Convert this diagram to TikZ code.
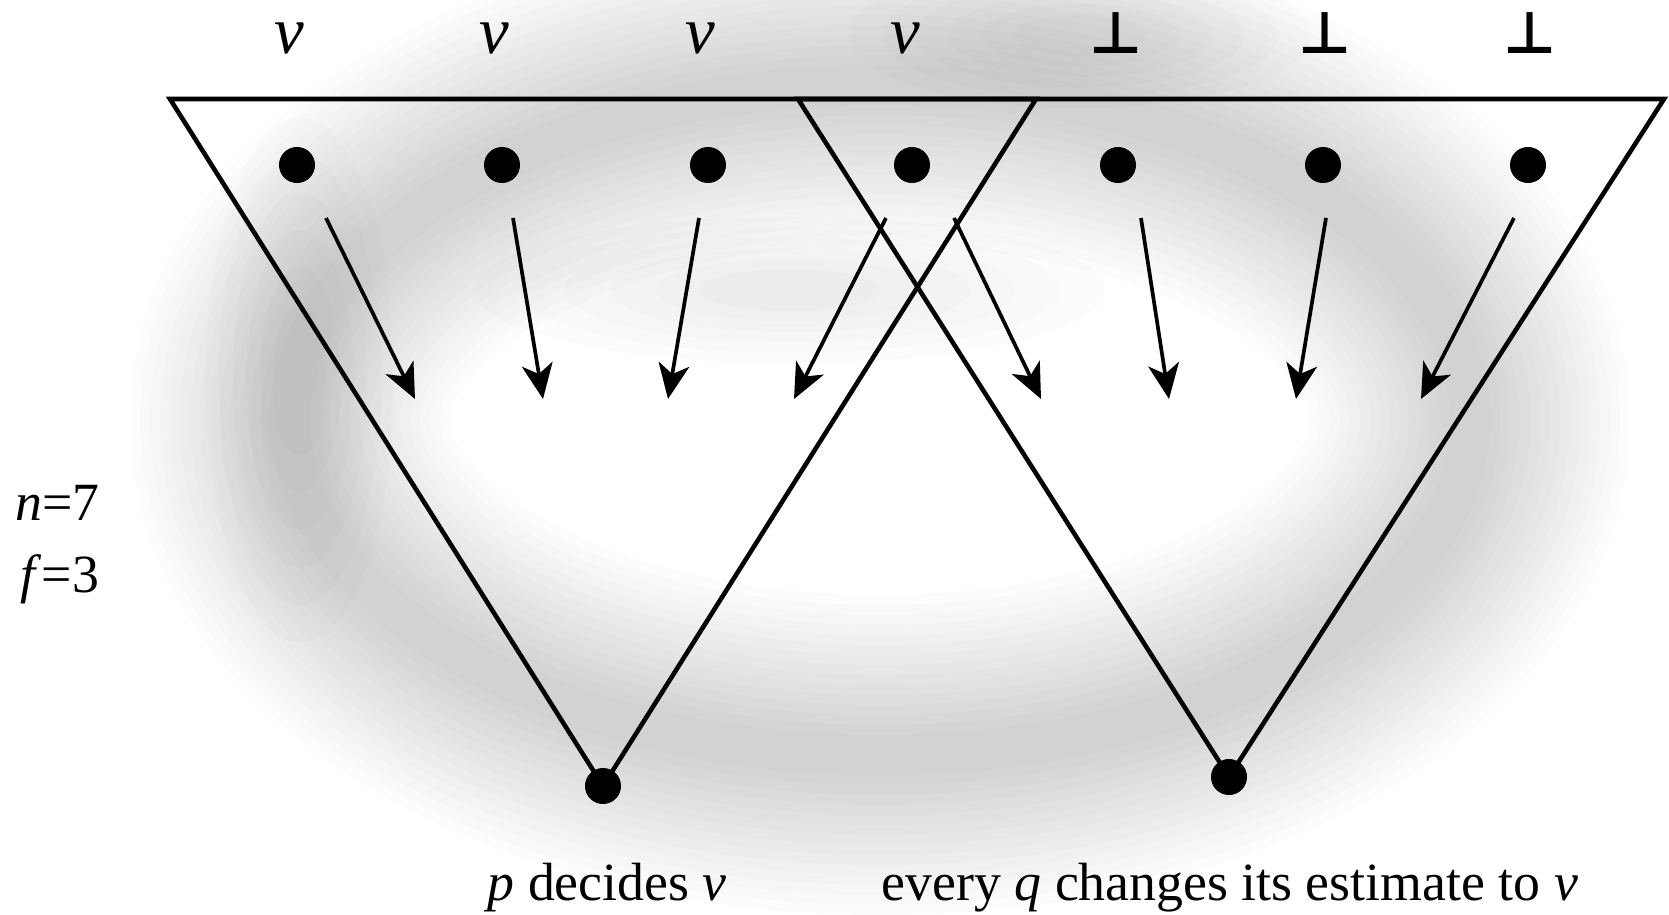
\documentclass[tikz,border=0pt]{standalone}
\usepackage{fontspec}
\setmainfont{Liberation Serif}
\newfontfamily\perpfont{DejaVu Sans}
\usetikzlibrary{arrows.meta}
\begin{document}
\begin{tikzpicture}[x=0.01cm,y=-0.01cm,
  dot/.style={circle,fill=black,inner sep=0pt,minimum size=0.36cm},
  tri/.style={line width=1.3pt,line join=miter},
  arr/.style={line width=1.05pt,-{Stealth[length=10pt,width=8.8pt,inset=2.8pt]}},
  toplab/.style={anchor=base,inner sep=0pt,font=\fontsize{19}{22}\selectfont},
  perplab/.style={anchor=base,inner sep=0pt,font=\perpfont\bfseries\fontsize{16.5}{20}\selectfont},
  txt/.style={anchor=base west,inner sep=0pt,font=\fontsize{15.3}{18}\selectfont},
  halo/.style={draw=black,opacity=0.010},
  blob/.style={fill=black,opacity=0.013}]
\useasboundingbox (0,0) rectangle (1669,915);
\fill[white] (0,0) rectangle (1669,915);
% blurred background shadow
\foreach \w in {40,60,...,320}{
  \draw[halo,line width=\w*0.1mm] (880,420) ellipse [x radius=590,y radius=335];
}
\foreach \s in {0.3,0.45,...,1.05}{
  \fill[blob] (790,290) ellipse [x radius=\s*300,y radius=\s*70];
  \fill[blob] (1080,35) ellipse [x radius=\s*220,y radius=\s*70];
  \fill[blob] (300,380) ellipse [x radius=\s*90,y radius=\s*250];
}
% dots
\node[dot] (d1) at (297,165) {};
\node[dot] (d2) at (502,165) {};
\node[dot] (d3) at (708,165) {};
\node[dot] (d4) at (912,165) {};
\node[dot] (d5) at (1118,165) {};
\node[dot] (d6) at (1323,165) {};
\node[dot] (d7) at (1528,165) {};
\node[dot] (pd) at (603,786) {};
\node[dot] (qd) at (1229,777) {};
% triangles
\coordinate (tl1) at (170,99);
\coordinate (tr1) at (1036,99);
\coordinate (tl2) at (798,99);
\coordinate (tr2) at (1664,99);
\draw[tri] (tl1) -- (tr1) -- (pd.center) -- cycle;
\draw[tri] (tl2) -- (tr2) -- (qd.center) -- cycle;
% arrows
\coordinate (s1) at (326,218); \coordinate (e1) at (415,399);
\coordinate (s2) at (513,218); \coordinate (e2) at (543,399);
\coordinate (s3) at (699,218); \coordinate (e3) at (668,399);
\coordinate (s4) at (886,218); \coordinate (e4) at (794,399);
\coordinate (s5) at (954,218); \coordinate (e5) at (1041,399);
\coordinate (s6) at (1141,218); \coordinate (e6) at (1169,399);
\coordinate (s7) at (1326,218); \coordinate (e7) at (1296,399);
\coordinate (s8) at (1514,218); \coordinate (e8) at (1421,399);
\foreach \i in {1,...,8}{ \draw[arr] (s\i) -- (e\i); }
% top labels
\node[toplab] (l1) at (289,53) {\textit{v}};
\node[toplab] (l2) at (494,53) {\textit{v}};
\node[toplab] (l3) at (700,53) {\textit{v}};
\node[toplab] (l4) at (905,53) {\textit{v}};
\node[perplab] (l5) at (1116,53) {⊥};
\node[perplab] (l6) at (1325,53) {⊥};
\node[perplab] (l7) at (1530,53) {⊥};
% side text
\node[txt] (nn) at (15,520) {\textit{n}=7};
\node[txt] (ff) at (20,592) {\textit{f}=3};
% bottom text
\node[txt] (pt) at (487,900) {\textit{p} decides \textit{v}};
\node[txt] (qt) at (881,900) {every \textit{q} changes its estimate to \textit{v}};
\end{tikzpicture}
\end{document}
